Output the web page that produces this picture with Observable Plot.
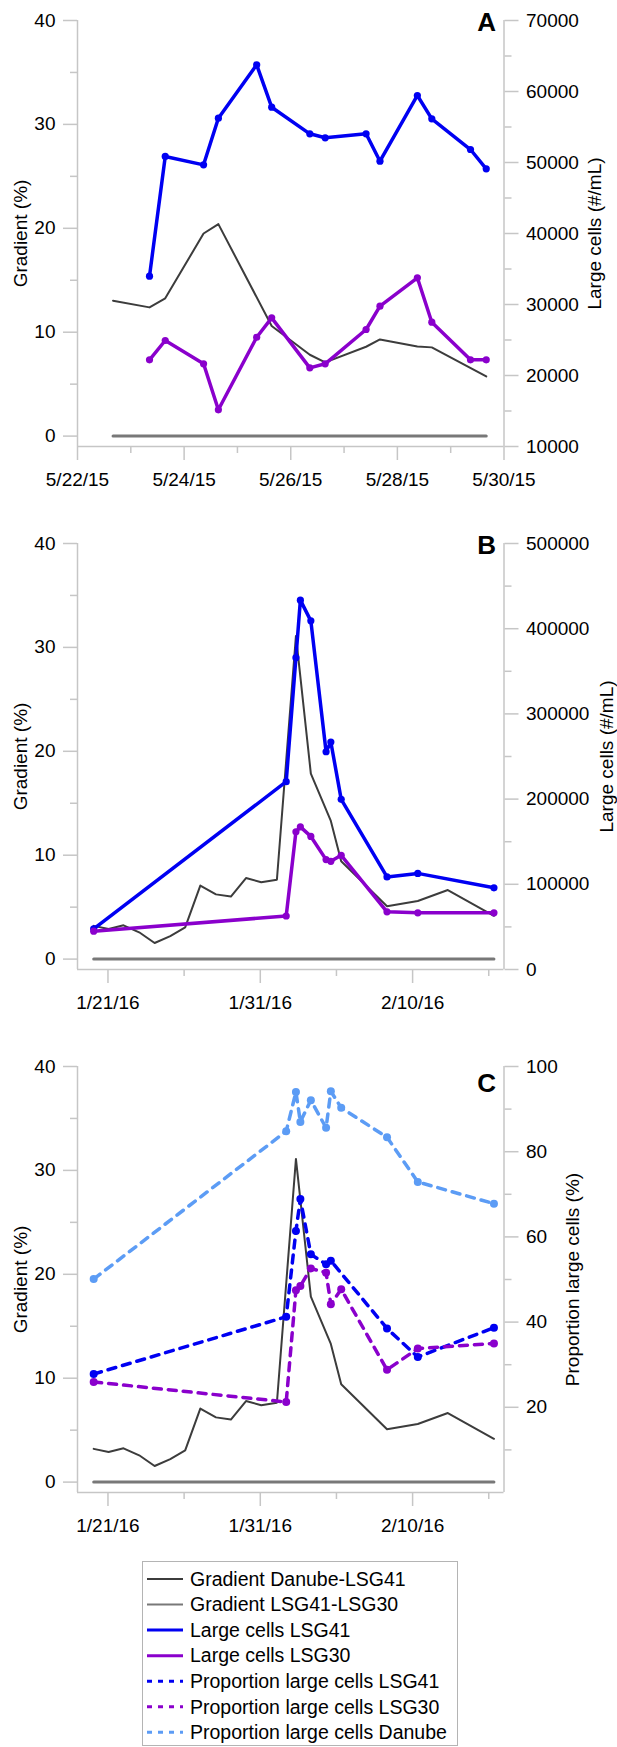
<!DOCTYPE html>
<html>
<head>
<meta charset="utf-8">
<script src="https://cdn.jsdelivr.net/npm/d3@7"></script>
<script src="https://cdn.jsdelivr.net/npm/@observablehq/plot@0.6"></script>
<style>
  body { margin: 0; background: #fff; }
  #root { position: relative; width: 617px; height: 1747px; overflow: hidden; font-family: "Liberation Sans", Arial, sans-serif; }
  .panel { position: absolute; left: 0; }
</style>
</head>
<body>
<div id="root"></div>
<script>
// ---------------- DATA ----------------
// Panel A (May 2015)
const xDomainA = ["2015-05-22", "2015-05-30"];
const xMajorA = ["2015-05-22", "2015-05-24", "2015-05-26", "2015-05-28", "2015-05-30"];
const xMinorA = ["2015-05-23", "2015-05-25", "2015-05-27", "2015-05-29"];
const rightMajorA = [10000, 20000, 30000, 40000, 50000, 60000, 70000];
const rightMinorA = [15000, 25000, 35000, 45000, 55000, 65000];
const rightDomainA = [10000, 70000];

const sampleTimesA = ["2015-05-23 08:25", "2015-05-23 15:30", "2015-05-24 08:45", "2015-05-24 15:25",
  "2015-05-25 08:40", "2015-05-25 15:25", "2015-05-26 08:35", "2015-05-26 15:30",
  "2015-05-27 09:55", "2015-05-27 16:10", "2015-05-28 09:00", "2015-05-28 15:30",
  "2015-05-29 08:55", "2015-05-29 16:00"];
const largeLSG41_A = [33990, 50850, 49670, 56240, 63760, 57790, 54040, 53480, 54040, 50180, 59440, 56150, 51830, 49110];
const largeLSG30_A = [22210, 24930, 21650, 15170, 25390, 28120, 21080, 21650, 26480, 29760, 33760, 27510, 22210, 22210];

const gradTimesA = ["2015-05-22 16:00", "2015-05-23 08:25", "2015-05-23 15:30", "2015-05-24 08:45",
  "2015-05-24 15:25", "2015-05-25 15:25", "2015-05-26 08:35", "2015-05-26 15:30",
  "2015-05-27 09:55", "2015-05-27 16:10", "2015-05-28 09:00", "2015-05-28 15:30", "2015-05-29 16:00"];
const gradDanube_A = [13.03, 12.39, 13.26, 19.5, 20.4, 10.6, 7.83, 7.1, 8.6, 9.3, 8.63, 8.54, 5.74];
const gradLSG41_30_A = [0, 0, 0, 0, 0, 0, 0, 0, 0, 0, 0, 0, 0];

// Panels B and C (Jan/Feb 2016)
const xDomainBC = ["2016-01-19", "2016-02-16"];
const xMajorBC = ["2016-01-21", "2016-01-31", "2016-02-10"];
const xMinorBC = ["2016-01-26", "2016-02-05", "2016-02-15"];
const rightMajorB = [0, 100000, 200000, 300000, 400000, 500000];
const rightMinorB = [50000, 150000, 250000, 350000, 450000];
const rightDomainB = [0, 500000];
const rightMajorC = [20, 40, 60, 80, 100];
const rightMinorC = [10, 30, 50, 70, 90];
const rightDomainC = [0, 100];

const gradTimesBC = ["2016-01-20 01:30", "2016-01-21 01:00", "2016-01-22 00:30", "2016-01-23 01:10",
  "2016-01-24 01:30", "2016-01-25 02:10", "2016-01-26 01:40", "2016-01-27 01:30", "2016-01-28 02:10",
  "2016-01-29 01:40", "2016-01-30 01:30", "2016-01-31 01:30", "2016-02-01 02:10", "2016-02-02 08:10",
  "2016-02-03 07:40", "2016-02-04 15:10", "2016-02-05 07:30", "2016-02-08 07:40", "2016-02-10 08:10",
  "2016-02-12 07:30", "2016-02-15 08:10"];
const gradDanube_BC = [3.2, 2.9, 3.25, 2.58, 1.55, 2.22, 3.05, 7.08, 6.23, 6.02, 7.8, 7.4, 7.64, 31.1,
  17.85, 13.3, 9.42, 5.08, 5.59, 6.65, 4.17];
const gradLSG41_30_BC = [0, 0, 0, 0, 0, 0, 0, 0, 0, 0, 0, 0, 0, 0, 0, 0, 0, 0, 0, 0, 0];

const sampleTimesBC = ["2016-01-20 01:30", "2016-02-01 16:50", "2016-02-02 08:10", "2016-02-02 15:10",
  "2016-02-03 07:40", "2016-02-04 07:40", "2016-02-04 15:10", "2016-02-05 07:30", "2016-02-08 07:40",
  "2016-02-10 08:10", "2016-02-15 08:10"];
const largeLSG41_B = [47700, 220400, 366000, 433500, 409200, 255600, 267000, 199700, 108600, 112800, 95900];
const largeLSG30_B = [45000, 62800, 161700, 167400, 156200, 129000, 127000, 134000, 67700, 66500, 66500];
const propLSG41_C = [27.8, 41.25, 61.4, 68.9, 55.9, 53.6, 54.4, null, 38.5, 31.8, 38.7];
const propLSG30_C = [25.95, 21.25, 47.5, 48.5, 52.6, 51.6, 44.2, 47.7, 28.8, 33.8, 35.0];
const propDanube_C = [50.1, 84.8, 94.0, 87.0, 92.1, 85.6, 94.2, 90.3, 83.4, 72.9, 67.8];

const leftMajor = [0, 10, 20, 30, 40];
const leftMinor = [5, 15, 25, 35];
const leftDomain = [-1, 40];

const legendItems = [
  {label: "Gradient Danube-LSG41", key: "dark"},
  {label: "Gradient LSG41-LSG30", key: "zero"},
  {label: "Large cells LSG41", key: "blue"},
  {label: "Large cells LSG30", key: "purple"},
  {label: "Proportion large cells LSG41", key: "blueDash"},
  {label: "Proportion large cells LSG30", key: "purpleDash"},
  {label: "Proportion large cells Danube", key: "lightDash"}
];

// ---------------- STYLE ----------------
const AXIS = "#c6c6c6";
const BLUE = "#0000f2", PURPLE = "#8a00cc", LIGHT = "#5c9cf5", DARK = "#3c3c3c", ZERO = "#787878";
const DASH = "8,7";
const styles = {
  dark: {stroke: DARK, strokeWidth: 2},
  zero: {stroke: ZERO, strokeWidth: 3},
  blue: {stroke: BLUE, strokeWidth: 3.5},
  purple: {stroke: PURPLE, strokeWidth: 3.5},
  blueDash: {stroke: BLUE, strokeWidth: 3.5, dash: DASH},
  purpleDash: {stroke: PURPLE, strokeWidth: 3.5, dash: DASH},
  lightDash: {stroke: LIGHT, strokeWidth: 3.5, dash: DASH}
};

const pTime = d3.utcParse("%Y-%m-%d %H:%M");
const pDay = d3.utcParse("%Y-%m-%d");
const fmtDate = d3.utcFormat("%-m/%-d/%y");

function series(times, vals) {
  return times.map((t, i) => ({t: pTime(t), v: vals[i]})).filter(d => d.v != null);
}

function makePanel(cfg) {
  const yD = leftDomain;
  const [r0, r1] = cfg.rightDomain;
  const toL = v => yD[0] + (v - r0) / (r1 - r0) * (yD[1] - yD[0]);
  const fromL = y => r0 + (y - yD[0]) / (yD[1] - yD[0]) * (r1 - r0);
  const xD = cfg.xDomain.map(pDay);
  const ax = {stroke: AXIS, strokeWidth: 1.5, label: null};

  const marks = [
    Plot.ruleX(xD, {stroke: AXIS, strokeWidth: 1.5}),
    Plot.ruleY([yD[0]], {stroke: AXIS, strokeWidth: 1.5}),
    Plot.axisY(leftMajor, {...ax, anchor: "left", tickSize: 14, tickPadding: 8}),
    Plot.axisY(leftMinor, {...ax, anchor: "left", tickSize: 7, tickFormat: () => ""}),
    Plot.axisY(cfg.rightMajor.map(toL), {...ax, anchor: "right", tickSize: 14, tickPadding: 8,
      tickFormat: y => String(Math.round(fromL(y)))}),
    Plot.axisY(cfg.rightMinor.map(toL), {...ax, anchor: "right", tickSize: 7, tickFormat: () => ""}),
    Plot.axisX(cfg.xMajor.map(pDay), {...ax, anchor: "bottom", tickSize: 14, tickPadding: 12, tickFormat: fmtDate}),
    Plot.axisX(cfg.xMinor.map(pDay), {...ax, anchor: "bottom", tickSize: 7, tickFormat: () => ""}),
    Plot.text(["Gradient (%)"], {text: d => d, frameAnchor: "left", dx: -57, rotate: -90,
      textAnchor: "middle", lineAnchor: "middle", fill: "black"}),
    Plot.text([cfg.rightLabel], {text: d => d, frameAnchor: "right", dx: cfg.rightLabelDx, rotate: -90,
      textAnchor: "middle", lineAnchor: "middle", fill: "black"}),
    Plot.text([cfg.letter], {text: d => d, frameAnchor: "top-right", dx: -8, dy: cfg.letterDy,
      textAnchor: "end", lineAnchor: "middle", fontSize: 26, fontWeight: "bold", fill: "black"})
  ];

  for (const s of cfg.series) {
    const st = styles[s.key];
    const data = series(s.times, s.values);
    const yf = s.right ? (d => toL(d.v)) : (d => d.v);
    marks.push(Plot.line(data, {x: "t", y: yf, stroke: st.stroke, strokeWidth: st.strokeWidth,
      strokeDasharray: st.dash, strokeLinejoin: "round"}));
    if (s.dots) marks.push(Plot.dot(data, {x: "t", y: yf, r: s.r || 3.6, fill: st.stroke, stroke: "none"}));
  }

  return Plot.plot({
    width: 617, height: 523,
    marginLeft: 77, marginRight: 113.5, marginTop: cfg.marginTop, marginBottom: 523 - cfg.marginTop - 426,
    x: {type: "utc", domain: xD},
    y: {domain: yD},
    style: {fontFamily: "'Liberation Sans', Arial, sans-serif", fontSize: "19px", color: "black",
      background: "white", overflow: "visible"},
    marks
  });
}

const root = document.getElementById("root");
function place(node, top) {
  node.classList.add("panel");
  node.style.top = top + "px";
  root.appendChild(node);
}

place(makePanel({
  xDomain: xDomainA, xMajor: xMajorA, xMinor: xMinorA,
  rightDomain: rightDomainA, rightMajor: rightMajorA, rightMinor: rightMinorA,
  rightLabel: "Large cells (#/mL)", rightLabelDx: 90.5, letter: "A", letterDy: 2, marginTop: 20,
  series: [
    {key: "zero", times: gradTimesA, values: gradLSG41_30_A},
    {key: "dark", times: gradTimesA, values: gradDanube_A},
    {key: "blue", times: sampleTimesA, values: largeLSG41_A, right: true, dots: true},
    {key: "purple", times: sampleTimesA, values: largeLSG30_A, right: true, dots: true}
  ]
}), 0);

place(makePanel({
  xDomain: xDomainBC, xMajor: xMajorBC, xMinor: xMinorBC,
  rightDomain: rightDomainB, rightMajor: rightMajorB, rightMinor: rightMinorB,
  rightLabel: "Large cells (#/mL)", rightLabelDx: 102.5, letter: "B", letterDy: 2.5, marginTop: 20,
  series: [
    {key: "zero", times: gradTimesBC, values: gradLSG41_30_BC},
    {key: "dark", times: gradTimesBC, values: gradDanube_BC},
    {key: "blue", times: sampleTimesBC, values: largeLSG41_B, right: true, dots: true},
    {key: "purple", times: sampleTimesBC, values: largeLSG30_B, right: true, dots: true}
  ]
}), 523);

place(makePanel({
  xDomain: xDomainBC, xMajor: xMajorBC, xMinor: xMinorBC,
  rightDomain: rightDomainC, rightMajor: rightMajorC, rightMinor: rightMinorC,
  rightLabel: "Proportion large cells (%)", rightLabelDx: 69, letter: "C", letterDy: 17, marginTop: 20,
  series: [
    {key: "zero", times: gradTimesBC, values: gradLSG41_30_BC},
    {key: "dark", times: gradTimesBC, values: gradDanube_BC},
    {key: "lightDash", times: sampleTimesBC, values: propDanube_C, right: true, dots: true, r: 4},
    {key: "blueDash", times: sampleTimesBC, values: propLSG41_C, right: true, dots: true, r: 4},
    {key: "purpleDash", times: sampleTimesBC, values: propLSG30_C, right: true, dots: true, r: 4}
  ]
}), 1046);

// ---------------- LEGEND ----------------
(function legend() {
  const L = {left: 142, top: 1561, width: 315, height: 184, rowStart: 18, rowStep: 25.55,
             lineX0: 5, lineX1: 41, textX: 48};
  const svg = d3.create("svg")
    .attr("width", L.width + 1).attr("height", L.height + 1)
    .style("position", "absolute").style("left", L.left + "px").style("top", L.top + "px")
    .style("font-family", "'Liberation Sans', Arial, sans-serif").style("font-size", "19.5px");
  svg.append("rect").attr("x", 0.5).attr("y", 0.5).attr("width", L.width).attr("height", L.height)
    .attr("fill", "white").attr("stroke", "#b4b4b4").attr("stroke-width", 1);
  legendItems.forEach((it, i) => {
    const st = styles[it.key];
    const y = L.rowStart + i * L.rowStep;
    svg.append("line").attr("x1", L.lineX0).attr("x2", L.lineX1).attr("y1", y).attr("y2", y)
      .attr("stroke", st.stroke).attr("stroke-width", it.key === "dark" || it.key === "zero" ? 2 : 3)
      .attr("stroke-dasharray", st.dash ? "5,6" : null);
    svg.append("text").attr("x", L.textX).attr("y", y).attr("dy", "0.35em").attr("fill", "black").text(it.label);
  });
  root.appendChild(svg.node());
})();
</script>
</body>
</html>
